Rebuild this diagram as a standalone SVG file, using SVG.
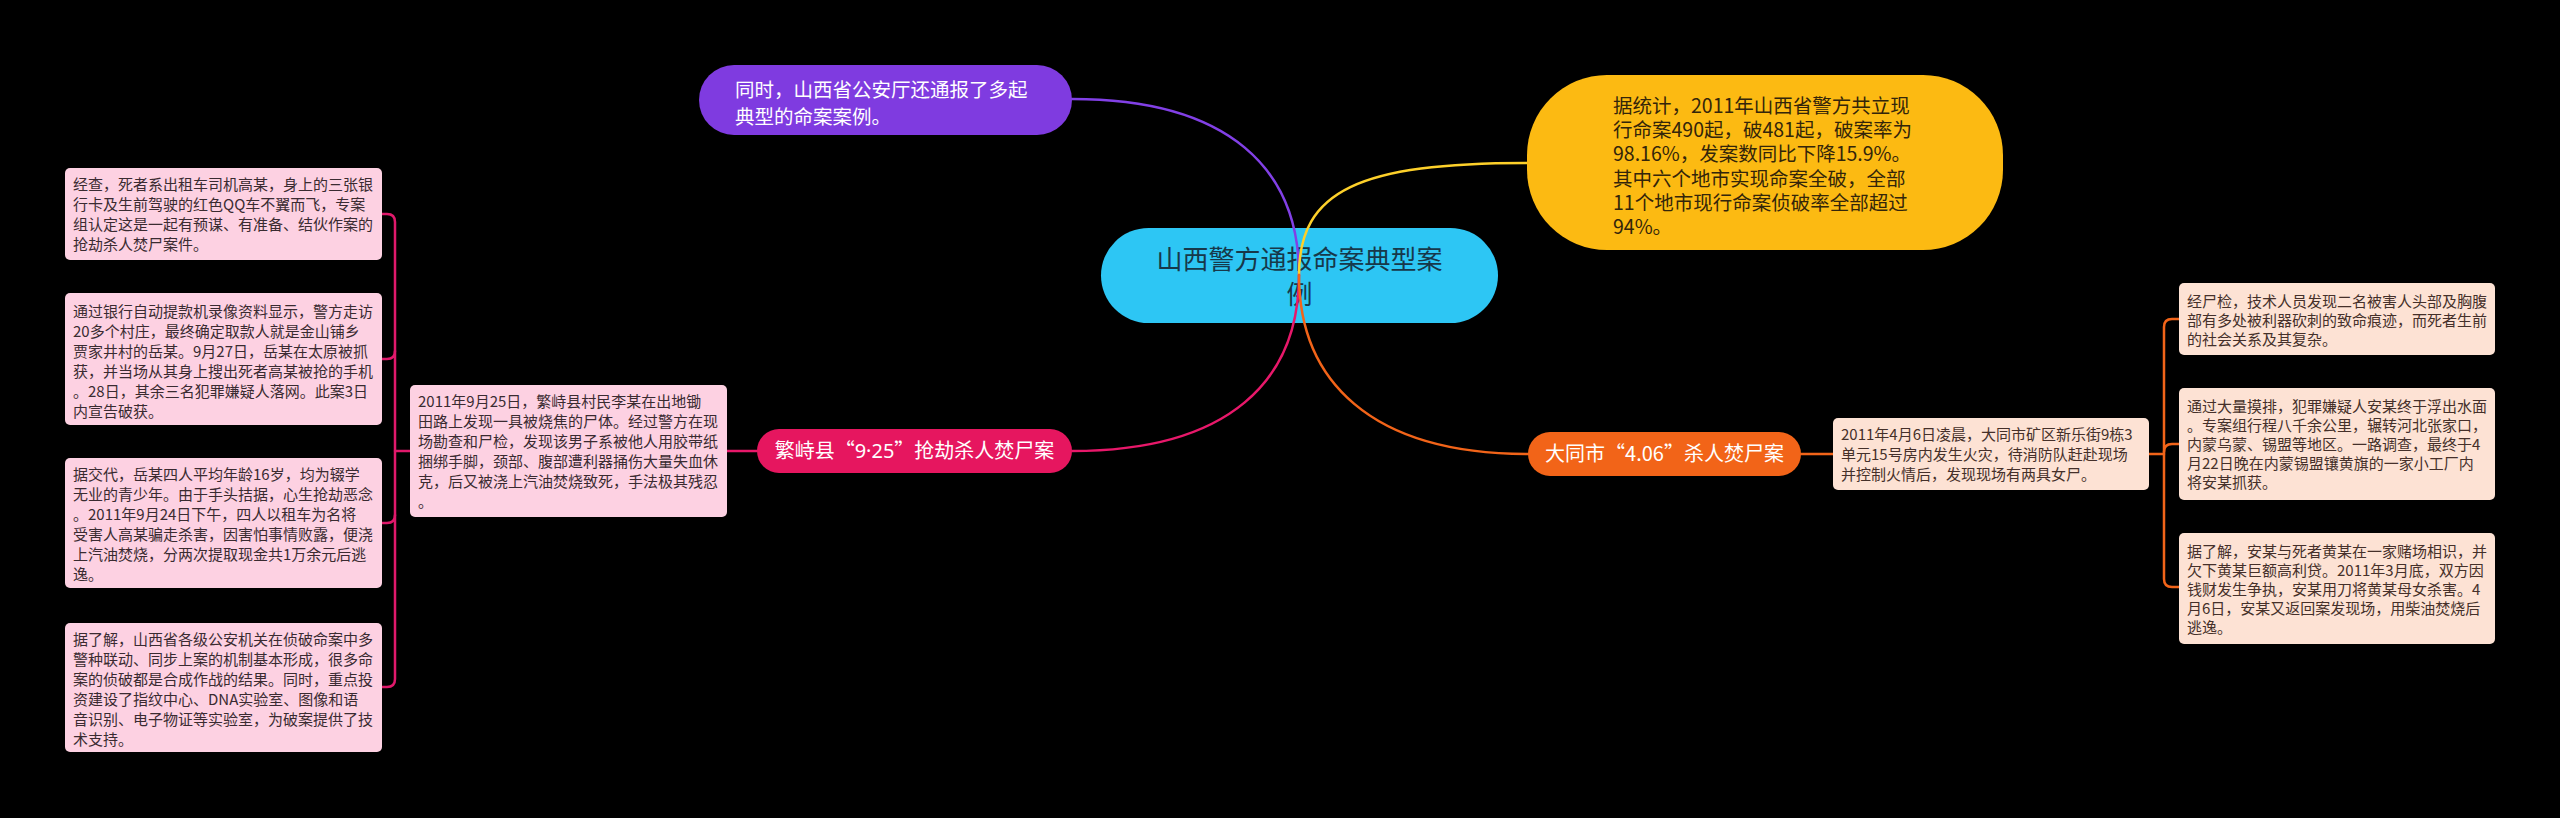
<svg xmlns="http://www.w3.org/2000/svg" width="2560" height="818" viewBox="0 0 2560 818">
<style>
text{font-family:"Noto Sans CJK SC","Noto Sans",sans-serif;}
.lat{font-family:"Noto Sans","Noto Sans CJK SC",sans-serif;}
.box{font-size:15px;}
.pinkbox{fill:#fdd1e2;}
.peachbox{fill:#fde2d4;}
.pt{fill:#3a2b31;}
.rt{fill:#45302a;}
.wt{fill:#ffffff;font-size:20px;}
.line{fill:none;stroke-width:2.5;stroke-linecap:round;}
</style>
<rect width="2560" height="818" fill="#000"/>

<g id="center">
<rect x="1101" y="228" width="397" height="95" rx="47.5" fill="#2dc6f4"/>
<text x="1299.5" y="269" font-size="26" fill="#17384a" text-anchor="middle">山西警方通报命案典型案</text>
<text x="1299.5" y="304" font-size="26" fill="#17384a" text-anchor="middle">例</text>
</g>

<g id="connectors">
<path class="line" stroke="#8240e6" d="M1299 275 C1299 170 1230 99 1072 99"/>
<path class="line" stroke="#fdd02a" d="M1299 275 C1299 190 1360 163 1527 163"/>
<path class="line" stroke="#e8186a" d="M1299 275 C1299 380 1230 451 1072 451"/>
<path class="line" stroke="#f26419" d="M1299 275 C1299 380 1370 454 1528 454"/>
<path class="line" stroke="#e8186a" d="M757 451 H727"/>
<path class="line" stroke="#e0196b" d="M410 451 H395"/>
<path class="line" stroke="#e0196b" d="M382 214 H387 Q395 214 395 222 V679 Q395 687 387 687 H382"/>
<path class="line" stroke="#e0196b" d="M395 351 Q395 359 387 359 H382"/>
<path class="line" stroke="#e0196b" d="M395 515 Q395 523 387 523 H382"/>
<path class="line" stroke="#f26419" d="M1801 454 H1833"/>
<path class="line" stroke="#f26419" d="M2149 454 H2164"/>
<path class="line" stroke="#f26419" d="M2179 319 H2172 Q2164 319 2164 327 V579 Q2164 587 2172 587 H2179"/>
<path class="line" stroke="#f26419" d="M2164 452 Q2164 444 2172 444 H2179"/>
</g>

<g id="purple">
<rect x="699" y="65" width="373" height="70" rx="35" fill="#7f3be0"/>
<text x="735" y="97" font-size="19.5" fill="#fff">同时，山西省公安厅还通报了多起</text>
<text x="735" y="124" font-size="19.5" fill="#fff">典型的命案案例。</text>
</g>

<g id="yellow">
<rect x="1527" y="75" width="476" height="175" rx="80" fill="#fcba12"/>
<g font-size="19.5" fill="#33250a">
<text x="1613" y="113">据统计，2011年山西省警方共立现</text>
<text x="1613" y="137">行命案490起，破481起，破案率为</text>
<text x="1613" y="161">98.16%，发案数同比下降15.9%。</text>
<text x="1613" y="186">其中六个地市实现命案全破，全部</text>
<text x="1613" y="210">11个地市现行命案侦破率全部超过</text>
<text x="1613" y="234">94%。</text>
</g>
</g>

<g id="fanshi">
<rect x="757" y="429" width="315" height="44" rx="22" fill="#e6165f"/>
<text class="wt" x="914.5" y="458" text-anchor="middle">繁峙县“<tspan class="lat">9·25</tspan>”抢劫杀人焚尸案</text>
</g>

<g id="fanshi-detail">
<rect class="pinkbox" x="410" y="385" width="317" height="132" rx="5"/>
<g class="box pt">
<text x="418" y="407">2011年9月25日，繁峙县村民李某在出地锄</text>
<text x="418" y="427">田路上发现一具被烧焦的尸体。经过警方在现</text>
<text x="418" y="447">场勘查和尸检，发现该男子系被他人用胶带纸</text>
<text x="418" y="467">捆绑手脚，颈部、腹部遭利器捅伤大量失血休</text>
<text x="418" y="487">克，后又被浇上汽油焚烧致死，手法极其残忍</text>
<text x="418" y="507">。</text>
</g>
</g>

<g id="left1">
<rect class="pinkbox" x="65" y="168" width="317" height="92" rx="5"/>
<g class="box pt">
<text x="73" y="190">经查，死者系出租车司机高某，身上的三张银</text>
<text x="73" y="210">行卡及生前驾驶的红色QQ车不翼而飞，专案</text>
<text x="73" y="230">组认定这是一起有预谋、有准备、结伙作案的</text>
<text x="73" y="250">抢劫杀人焚尸案件。</text>
</g>
</g>

<g id="left2">
<rect class="pinkbox" x="65" y="293" width="317" height="132" rx="5"/>
<g class="box pt">
<text x="73" y="317">通过银行自动提款机录像资料显示，警方走访</text>
<text x="73" y="337">20多个村庄，最终确定取款人就是金山铺乡</text>
<text x="73" y="357">贾家井村的岳某。9月27日，岳某在太原被抓</text>
<text x="73" y="377">获，并当场从其身上搜出死者高某被抢的手机</text>
<text x="73" y="397">。28日，其余三名犯罪嫌疑人落网。此案3日</text>
<text x="73" y="417">内宣告破获。</text>
</g>
</g>

<g id="left3">
<rect class="pinkbox" x="65" y="458" width="317" height="130" rx="5"/>
<g class="box pt">
<text x="73" y="480">据交代，岳某四人平均年龄16岁，均为辍学</text>
<text x="73" y="500">无业的青少年。由于手头拮据，心生抢劫恶念</text>
<text x="73" y="520">。2011年9月24日下午，四人以租车为名将</text>
<text x="73" y="540">受害人高某骗走杀害，因害怕事情败露，便浇</text>
<text x="73" y="560">上汽油焚烧，分两次提取现金共1万余元后逃</text>
<text x="73" y="580">逸。</text>
</g>
</g>

<g id="left4">
<rect class="pinkbox" x="65" y="623" width="317" height="129" rx="5"/>
<g class="box pt">
<text x="73" y="645">据了解，山西省各级公安机关在侦破命案中多</text>
<text x="73" y="665">警种联动、同步上案的机制基本形成，很多命</text>
<text x="73" y="685">案的侦破都是合成作战的结果。同时，重点投</text>
<text x="73" y="705">资建设了指纹中心、DNA实验室、图像和语</text>
<text x="73" y="725">音识别、电子物证等实验室，为破案提供了技</text>
<text x="73" y="745">术支持。</text>
</g>
</g>

<g id="datong">
<rect x="1528" y="432" width="273" height="44" rx="22" fill="#f26418"/>
<text class="wt" x="1664.5" y="461" text-anchor="middle">大同市“4.06”杀人焚尸案</text>
</g>

<g id="datong-detail">
<rect class="peachbox" x="1833" y="418" width="316" height="72" rx="5"/>
<g class="box rt">
<text x="1841" y="440">2011年4月6日凌晨，大同市矿区新乐街9栋3</text>
<text x="1841" y="460">单元15号房内发生火灾，待消防队赶赴现场</text>
<text x="1841" y="480">并控制火情后，发现现场有两具女尸。</text>
</g>
</g>

<g id="right1">
<rect class="peachbox" x="2179" y="283" width="316" height="72" rx="5"/>
<g class="box rt">
<text x="2187" y="307">经尸检，技术人员发现二名被害人头部及胸腹</text>
<text x="2187" y="326">部有多处被利器砍刺的致命痕迹，而死者生前</text>
<text x="2187" y="345">的社会关系及其复杂。</text>
</g>
</g>

<g id="right2">
<rect class="peachbox" x="2179" y="388" width="316" height="112" rx="5"/>
<g class="box rt">
<text x="2187" y="412">通过大量摸排，犯罪嫌疑人安某终于浮出水面</text>
<text x="2187" y="431">。专案组行程八千余公里，辗转河北张家口，</text>
<text x="2187" y="450">内蒙乌蒙、锡盟等地区。一路调查，最终于4</text>
<text x="2187" y="469">月22日晚在内蒙锡盟镶黄旗的一家小工厂内</text>
<text x="2187" y="488">将安某抓获。</text>
</g>
</g>

<g id="right3">
<rect class="peachbox" x="2179" y="533" width="316" height="111" rx="5"/>
<g class="box rt">
<text x="2187" y="557">据了解，安某与死者黄某在一家赌场相识，并</text>
<text x="2187" y="576">欠下黄某巨额高利贷。2011年3月底，双方因</text>
<text x="2187" y="595">钱财发生争执，安某用刀将黄某母女杀害。4</text>
<text x="2187" y="614">月6日，安某又返回案发现场，用柴油焚烧后</text>
<text x="2187" y="633">逃逸。</text>
</g>
</g>
</svg>
